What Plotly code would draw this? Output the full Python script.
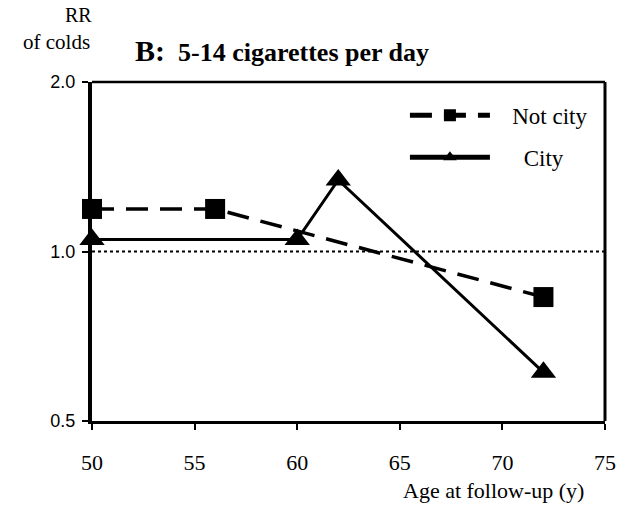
import plotly.graph_objects as go

ages_not_city = [50, 56, 72]
rr_not_city = [1.19, 1.19, 0.83]
ages_city = [50, 60, 62, 72]
rr_city = [1.05, 1.05, 1.34, 0.61]
ref_x = [50, 75]
ref_y = [1.0, 1.0]
x_ticks = [50, 55, 60, 65, 70, 75]
y_ticks = [0.5, 1.0, 2.0]
y_ticktext = ["0.5", "1.0", "2.0"]

serif = "'Liberation Serif', 'Times New Roman', Times, serif"
sans = "'Liberation Sans', Arial, sans-serif"
nb = "\u00a0"

fig = go.Figure()
fig.add_trace(go.Scatter(x=ref_x, y=ref_y, mode="lines", showlegend=False,
                         line=dict(color="black", width=2, dash="dot"), hoverinfo="skip"))
fig.add_trace(go.Scatter(x=ages_not_city, y=rr_not_city, mode="lines+markers", name=nb * 3 + "Not city",
                         legendgroup="a",
                         line=dict(color="black", width=3.5, dash="22px,12px"),
                         marker=dict(symbol="square", size=20, color="black"), cliponaxis=False))
fig.add_trace(go.Scatter(x=ages_city, y=rr_city, mode="lines+markers", name=nb * 5 + "City",
                         legendgroup="b",
                         line=dict(color="black", width=3),
                         marker=dict(symbol="triangle-up", size=22, color="black"), cliponaxis=False))

fig.update_layout(
    width=628, height=512,
    margin=dict(l=92, r=21, t=82, b=91),
    plot_bgcolor="white", paper_bgcolor="white",
    font=dict(family=serif, color="black", size=18),
    legend=dict(x=0.61, y=0.965, xanchor="left", yanchor="top", bgcolor="rgba(0,0,0,0)",
                font=dict(family=serif, size=23), itemwidth=80, tracegroupgap=9,
                itemsizing="constant"),
    xaxis=dict(range=[50, 75], tickvals=x_ticks, ticks="outside", ticklen=6, tickwidth=2,
               tickcolor="black", showline=True, linewidth=3, linecolor="black",
               showgrid=False, zeroline=False, ticklabelstandoff=14,
               tickfont=dict(family=serif, size=22)),
    yaxis=dict(type="log", range=[-0.30103, 0.30103], tickvals=y_ticks, ticktext=y_ticktext,
               ticks="outside", ticklen=6, tickwidth=2, tickcolor="black",
               showline=True, linewidth=4, linecolor="black", showgrid=False, zeroline=False,
               ticklabelstandoff=3, tickfont=dict(family=sans, size=18)),
)
fig.add_shape(type="line", xref="paper", yref="paper", x0=0, x1=1, y0=1, y1=1,
              line=dict(color="black", width=2.5))
fig.add_shape(type="line", xref="paper", yref="paper", x0=1, x1=1, y0=0, y1=1,
              line=dict(color="black", width=3))

fig.add_annotation(text="<b><span style='font-size:30px'>B:</span>  5-14 cigarettes per day</b>",
                   xref="paper", yref="paper",
                   x=0.08, y=1.0, yshift=32, xanchor="left", yanchor="middle", showarrow=False,
                   font=dict(family=serif, size=26))
fig.add_annotation(text="RR", xref="paper", yref="paper", x=-0.027, y=1.0, yshift=67,
                   xanchor="center", yanchor="middle", showarrow=False, font=dict(family=serif, size=20))
fig.add_annotation(text="of colds", xref="paper", yref="paper", x=0.0, y=1.0, yshift=40,
                   xanchor="right", yanchor="middle", showarrow=False, font=dict(family=serif, size=21))
fig.add_annotation(text="Age at follow-up (y)", xref="paper", yref="paper", x=0.963, y=0.0, yshift=-69,
                   xanchor="right", yanchor="middle", showarrow=False, font=dict(family=serif, size=22))

fig.write_html("out.html", config={"displayModeBar": False},
               post_script="document.body.style.margin='0';document.body.style.overflow='hidden';")
